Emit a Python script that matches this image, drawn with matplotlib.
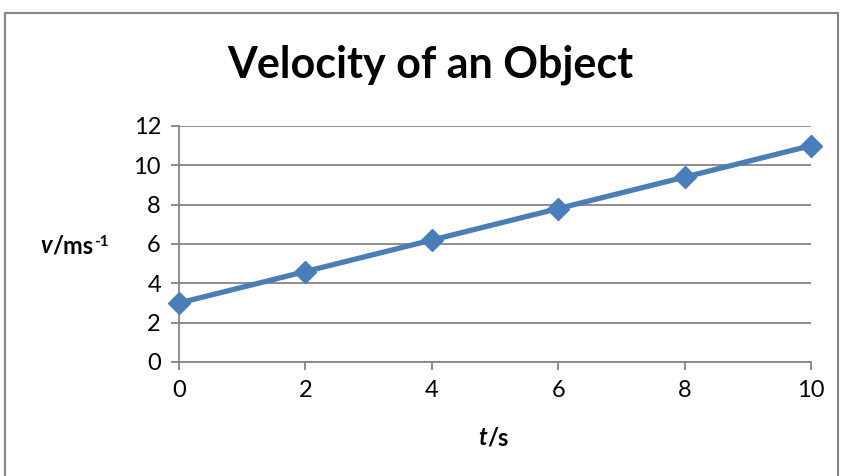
import numpy as np
import matplotlib.pyplot as plt
from matplotlib.patches import Rectangle

# Data
t = [0, 2, 4, 6, 8, 10]
v = [3, 4.6, 6.2, 7.8, 9.4, 11]
x_ticks = [0, 2, 4, 6, 8, 10]
y_ticks = [0, 2, 4, 6, 8, 10, 12]

plt.rcParams['font.family'] = ['Lato', 'DejaVu Sans']

W, H = 843, 476
fig = plt.figure(figsize=(W / 100, H / 100), dpi=100)
ax = fig.add_axes([179 / W, 1 - 362 / H, (811 - 179) / W, (362 - 126) / H])

grey = '#868686'
blue = '#4A7EBB'

# outer chart border
fig.patches.append(Rectangle((5 / W, -0.1), 833 / W, 1.1 - 13 / H,
                             transform=fig.transFigure, fill=False,
                             edgecolor=grey, linewidth=1.5))

ax.plot(t, v, color=blue, linewidth=3.8, marker='D', markersize=11,
        markerfacecolor=blue, markeredgecolor=blue, clip_on=False, zorder=3)

ax.set_xlim(0, 10)
ax.set_ylim(0, 12)
ax.set_xticks(x_ticks)
ax.set_yticks(y_ticks)
ax.yaxis.grid(True, color=grey, linewidth=1.3)
ax.set_axisbelow(True)

for s in ['top', 'right']:
    ax.spines[s].set_visible(False)
for s in ['left', 'bottom']:
    ax.spines[s].set_color(grey)
    ax.spines[s].set_linewidth(1.3)

ax.tick_params(axis='both', colors=grey, labelcolor='black', labelsize=17,
               length=6, width=1.3)
ax.tick_params(axis='x', pad=7)
ax.tick_params(axis='y', pad=7)

fig.text(430 / W, 1 - 65 / H, 'Velocity of an Object', ha='center', va='center',
         fontsize=31, fontweight='bold')

renderer = fig.canvas.get_renderer()


def text_run(x, y, parts):
    # parts: (string, style, size, dy in px)
    for s, style, size, dy in parts:
        tx = fig.text(x / W, (y + dy) / H, s, ha='left', va='baseline',
                      fontsize=size, fontweight='bold', style=style)
        bb = tx.get_window_extent(renderer)
        x = bb.x1 + 0.5


# y label, baseline at about y=252 from top
text_run(40, H - 253, [('v', 'italic', 17, 0), ('/ms', 'normal', 17, 0),
                       ('-1', 'normal', 11, 7)])
# x label
text_run(478, H - 445, [('t', 'italic', 17, 0), ('/s', 'normal', 17, 0)])

fig.savefig('out.png', dpi=100)
